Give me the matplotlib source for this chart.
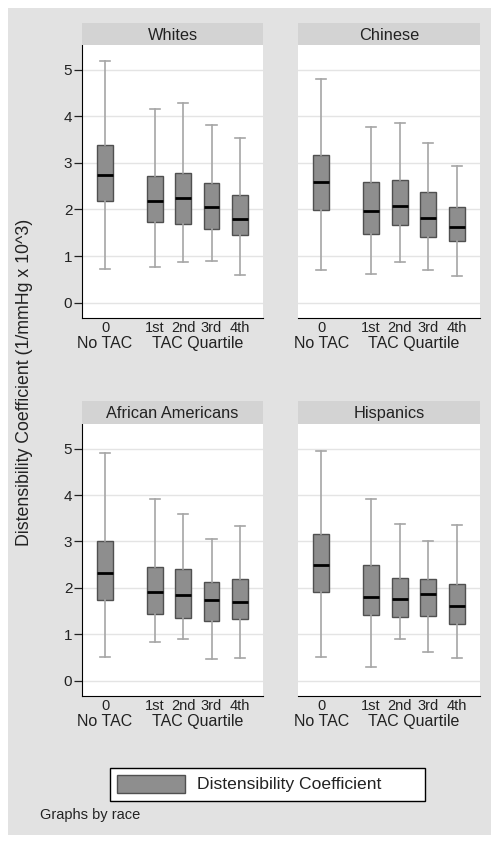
import matplotlib
matplotlib.use("Agg")
import matplotlib.pyplot as plt
from matplotlib.patches import Rectangle

plt.rcParams['font.family'] = ['Liberation Sans', 'DejaVu Sans']

groups = ["Whites", "Chinese", "African Americans", "Hispanics"]
categories = ["0", "1st", "2nd", "3rd", "4th"]
cat_pos = [0, 1.75, 2.75, 3.75, 4.75]

# per group: whisker low, Q1, median, Q3, whisker high for each category
whislo = {
    "Whites": [0.73, 0.77, 0.87, 0.89, 0.59],
    "Chinese": [0.69, 0.61, 0.87, 0.69, 0.58],
    "African Americans": [0.51, 0.84, 0.90, 0.46, 0.48],
    "Hispanics": [0.50, 0.30, 0.90, 0.62, 0.49],
}
q1 = {
    "Whites": [2.18, 1.74, 1.69, 1.59, 1.46],
    "Chinese": [1.99, 1.48, 1.66, 1.40, 1.32],
    "African Americans": [1.73, 1.44, 1.35, 1.29, 1.32],
    "Hispanics": [1.92, 1.42, 1.38, 1.40, 1.22],
}
med = {
    "Whites": [2.75, 2.18, 2.25, 2.05, 1.80],
    "Chinese": [2.59, 1.96, 2.08, 1.81, 1.63],
    "African Americans": [2.31, 1.90, 1.84, 1.73, 1.70],
    "Hispanics": [2.49, 1.80, 1.77, 1.87, 1.61],
}
q3 = {
    "Whites": [3.39, 2.71, 2.79, 2.56, 2.32],
    "Chinese": [3.16, 2.59, 2.64, 2.37, 2.06],
    "African Americans": [3.01, 2.45, 2.41, 2.12, 2.18],
    "Hispanics": [3.15, 2.49, 2.21, 2.18, 2.08],
}
whishi = {
    "Whites": [5.19, 4.16, 4.29, 3.81, 3.54],
    "Chinese": [4.79, 3.78, 3.86, 3.43, 2.94],
    "African Americans": [4.91, 3.92, 3.59, 3.05, 3.33],
    "Hispanics": [4.94, 3.91, 3.37, 3.00, 3.36],
}
yticks = [0, 1, 2, 3, 4, 5]
legend_label = "Distensibility Coefficient"
ylabel = "Distensibility Coefficient (1/mmHg x 10^3)"

W, H = 502, 843
fig = plt.figure(figsize=(W / 100, H / 100), dpi=100)
fig.patch.set_facecolor("white")
fig.patches.append(Rectangle((8 / W, 8 / H), 483 / W, 827 / H,
                             transform=fig.transFigure, facecolor="#e2e2e2",
                             edgecolor="none", zorder=-10))

STRIP = "#d3d3d3"
BOXFACE = "#8e8e8e"
BOXEDGE = "#505050"
WHISK = "#a6a6a6"
TXT = "#222222"

panel_px = {
    "Whites": (82, 45, 263, 318),
    "Chinese": (298, 45, 480, 318),
    "African Americans": (82, 424, 263, 696),
    "Hispanics": (298, 424, 480, 696),
}

for gi, g in enumerate(groups):
    x0, y0, x1, y1 = panel_px[g]
    ax = fig.add_axes([x0 / W, 1 - y1 / H, (x1 - x0) / W, (y1 - y0) / H])
    ax.set_facecolor("white")
    stats = []
    for i, c in enumerate(categories):
        stats.append(dict(med=med[g][i], q1=q1[g][i], q3=q3[g][i],
                          whislo=whislo[g][i], whishi=whishi[g][i],
                          fliers=[], label=c))
    ax.bxp(stats, positions=cat_pos, widths=0.55, capwidths=0.36,
           showfliers=False, patch_artist=True,
           boxprops=dict(facecolor=BOXFACE, edgecolor=BOXEDGE, linewidth=1.0),
           medianprops=dict(color="black", linewidth=2.0),
           whiskerprops=dict(color=WHISK, linewidth=1.2),
           capprops=dict(color=WHISK, linewidth=1.2), zorder=3)
    ax.set_xlim(-0.81, 5.56)
    ax.set_ylim(-0.33, 5.53)
    ax.set_yticks(yticks)
    ax.grid(axis="y", color="#e4e4e4", linewidth=1.0, zorder=0)
    ax.set_axisbelow(True)
    ax.set_xticks(cat_pos)
    ax.set_xticklabels(categories, fontsize=10.5, color=TXT)
    ax.tick_params(axis="x", length=0, pad=2.5)
    for s in ["top", "right"]:
        ax.spines[s].set_visible(False)
    ax.spines["bottom"].set_color("black")
    if gi % 2 == 0:
        ax.spines["left"].set_color("black")
        ax.tick_params(axis="y", length=6, width=0.9, pad=1, labelsize=11,
                       labelcolor=TXT, color=TXT)
    else:
        ax.spines["left"].set_visible(False)
        ax.tick_params(axis="y", length=0, labelleft=False)
    tr = ax.get_xaxis_transform()
    yoff = -25.5 / (y1 - y0)
    ax.text(cat_pos[0], yoff, "No TAC", transform=tr, ha="center", va="center",
            fontsize=11.5, color=TXT)
    ax.text((cat_pos[1] + cat_pos[-1]) / 2, yoff, "TAC Quartile", transform=tr,
            ha="center", va="center", fontsize=11.5, color=TXT)
    # strip
    sh = 22 if gi < 2 else 23
    sax = fig.add_axes([x0 / W, 1 - y0 / H, (x1 - x0) / W, sh / H])
    sax.set_facecolor(STRIP)
    sax.set_xticks([])
    sax.set_yticks([])
    for s in sax.spines.values():
        s.set_visible(False)
    sax.text(0.5, 0.45, g, ha="center", va="center", fontsize=11.8,
             color=TXT, transform=sax.transAxes)

fig.text(25 / W, 1 - 382 / H, ylabel, rotation=90, ha="center", va="center",
         fontsize=12.8, color=TXT)

# legend
fig.patches.append(Rectangle((110 / W, 1 - 801 / H), 315 / W, 33 / H,
                             transform=fig.transFigure, facecolor="white",
                             edgecolor="black", linewidth=1.0))
fig.patches.append(Rectangle((117 / W, 1 - 793 / H), 68 / W, 18 / H,
                             transform=fig.transFigure, facecolor=BOXFACE,
                             edgecolor=BOXEDGE, linewidth=1.0))
fig.text(197 / W, 1 - 784.5 / H, legend_label, ha="left", va="center",
         fontsize=12.6, color=TXT)
fig.text(40 / W, 1 - 815 / H, "Graphs by race", ha="left", va="center",
         fontsize=10.5, color=TXT)

fig.savefig("out.png", dpi=100, facecolor="white")
